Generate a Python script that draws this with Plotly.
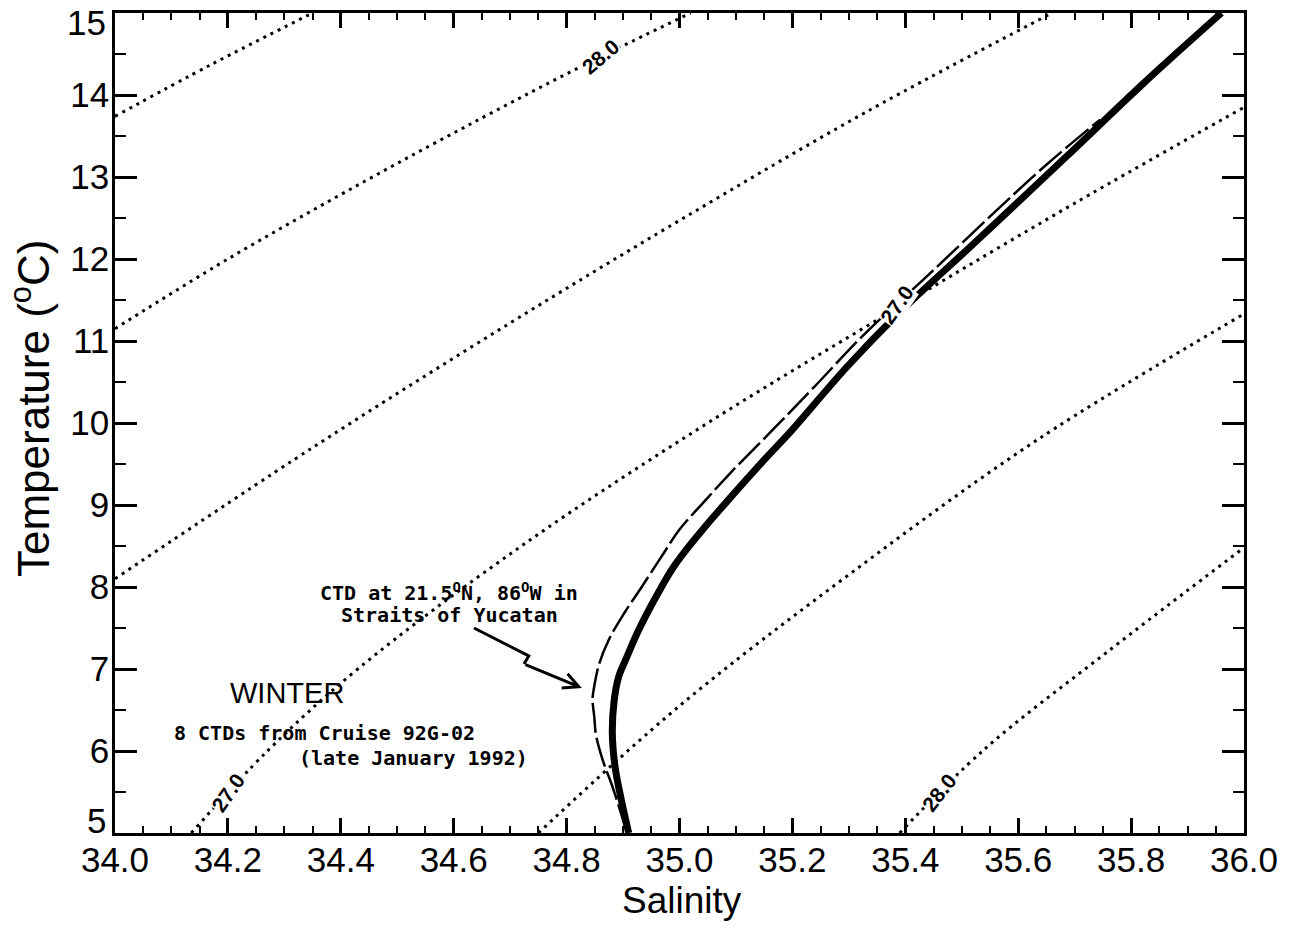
import plotly.graph_objects as go

# ---------------- data ----------------
# isopycnal (sigma-theta) contours: salinity / temperature points
iso_A_S = [34.0, 34.17, 34.35]
iso_A_T = [13.74, 14.37, 15.0]
iso_B_S = [34.0, 34.2, 34.435, 34.65, 34.835, 35.02]
iso_B_T = [11.15, 12.0, 12.92, 13.72, 14.38, 15.0]
iso_C_S = [34.0, 34.35, 34.7, 35.0, 35.33, 35.66]
iso_C_T = [8.10, 9.70, 11.22, 12.47, 13.79, 15.0]
iso_D_S = [34.135, 34.27, 34.43, 34.72, 35.05, 35.39, 35.70, 36.0]
iso_D_T = [5.0, 6.0, 7.0, 8.5, 10.0, 11.42, 12.68, 13.85]
iso_E_S = [34.75, 35.0, 35.3, 35.635, 36.0]
iso_E_T = [5.0, 6.55, 8.15, 9.8, 11.33]
iso_F_S = [35.39, 35.54, 35.76, 36.0]
iso_F_T = [5.0, 6.02, 7.22, 8.48]

# contour labels: text, S, T, angle
iso_label_text = ["28.0", "27.0", "27.0", "28.0"]
iso_label_S = [34.86, 35.385, 34.2, 35.46]
iso_label_T = [14.47, 11.45, 5.5, 5.49]
iso_label_angle = [-40, -55, -55, -52]

# 8 CTDs (cruise 92G-02) - overlapping, drawn as a thick band
ctd_S = [34.91, 34.897, 34.886, 34.881, 34.884, 34.892, 34.907, 34.926, 34.956,
         34.99, 35.035, 35.085, 35.15, 35.20, 35.296, 35.39, 35.52, 35.684, 35.82, 35.96]
ctd_T = [5.0, 5.4, 5.8, 6.22, 6.6, 6.9, 7.15, 7.45, 7.85,
         8.25, 8.65, 9.05, 9.55, 9.92, 10.68, 11.35, 12.18, 13.24, 14.13, 15.0]

# CTD in Straits of Yucatan (thin line)
yuc_S = [34.907, 34.90, 34.881, 34.864, 34.852, 34.849, 34.846, 34.849, 34.858,
         34.875, 34.902, 34.933, 34.968, 35.0, 35.045, 35.09, 35.165, 35.24,
         35.33, 35.44, 35.555, 35.65, 35.745]
yuc_T = [5.0, 5.16, 5.57, 5.89, 6.2, 6.42, 6.63, 6.79, 7.07,
         7.36, 7.68, 8.0, 8.37, 8.70, 9.05, 9.39, 9.915, 10.45,
         11.1, 11.8, 12.55, 13.15, 13.7]

# zig-zag pointer from the note to the Yucatan profile
arrow_S = [34.636, 34.733, 34.7245, 34.827]
arrow_T = [7.50, 7.159, 7.061, 6.768]

x_ticks = [34.0, 34.2, 34.4, 34.6, 34.8, 35.0, 35.2, 35.4, 35.6, 35.8, 36.0]
y_ticks = [5, 6, 7, 8, 9, 10, 11, 12, 13, 14, 15]

# ---------------- figure ----------------
fig = go.Figure()

dot_line = dict(color="black", width=3, dash="3px,5px")
for s, t in [(iso_A_S, iso_A_T), (iso_B_S, iso_B_T), (iso_C_S, iso_C_T),
             (iso_D_S, iso_D_T), (iso_E_S, iso_E_T), (iso_F_S, iso_F_T)]:
    fig.add_trace(go.Scatter(x=s, y=t, mode="lines", line=dict(dot_line, shape="spline"),
                             hoverinfo="skip", showlegend=False))

fig.add_trace(go.Scatter(x=yuc_S, y=yuc_T, mode="lines",
                         line=dict(color="black", width=2.5, dash="30px,5px", shape="spline"),
                         showlegend=False))
fig.add_trace(go.Scatter(x=ctd_S, y=ctd_T, mode="lines",
                         line=dict(color="black", width=7, shape="spline"),
                         showlegend=False))
fig.add_trace(go.Scatter(x=arrow_S[:3], y=arrow_T[:3], mode="lines",
                         line=dict(color="black", width=3), showlegend=False))

annotations = []
for txt, s, t, a in zip(iso_label_text, iso_label_S, iso_label_T, iso_label_angle):
    annotations.append(dict(x=s, y=t, text="<b>" + txt + "</b>", showarrow=False,
                            textangle=a,
                            font=dict(family="Liberation Sans", size=21, color="black"),
                            bgcolor="white", borderpad=0))

annotations.append(dict(x=arrow_S[3], y=arrow_T[3], ax=arrow_S[2], ay=arrow_T[2],
                        axref="x", ayref="y", xref="x", yref="y", text="",
                        showarrow=True, arrowhead=5, arrowsize=1, arrowwidth=3,
                        arrowcolor="black"))

mono = dict(family="DejaVu Sans Mono", size=20, color="black")
annotations += [
    dict(x=34.305, y=6.707, text="WINTER", showarrow=False,
         font=dict(family="Liberation Sans", size=29, color="black")),
    dict(x=34.101, y=6.22, text="<b>8 CTDs from Cruise 92G-02</b>", showarrow=False,
         xanchor="left", font=mono),
    dict(x=34.322, y=5.915, text="<b>(late January 1992)</b>", showarrow=False,
         xanchor="left", font=mono),
    dict(x=34.592, y=7.939, text="<b>CTD at 21.5<sup>O</sup>N, 86<sup>O</sup>W in</b>",
         showarrow=False, font=mono),
    dict(x=34.592, y=7.659, text="<b>Straits of Yucatan</b>", showarrow=False, font=mono),
    dict(xref="paper", yref="paper", x=0.502, y=0, yshift=-67, yanchor="middle",
         text="Salinity", showarrow=False,
         font=dict(family="Liberation Sans", size=37, color="black")),
    dict(xref="paper", yref="paper", x=0, xshift=-85, y=0.517, xanchor="center",
         yanchor="middle", textangle=-90, text="Temperature (<sup>o</sup>C)",
         showarrow=False, font=dict(family="Liberation Sans", size=44, color="black")),
    # end tick labels of the temperature axis sit inside the frame, as in the original
    dict(xref="paper", yref="y", x=0, xshift=-7, y=y_ticks[-1], yshift=-9,
         xanchor="right", yanchor="middle", text=str(y_ticks[-1]), showarrow=False,
         font=dict(family="Liberation Sans", size=35, color="black")),
    dict(xref="paper", yref="y", x=0, xshift=-7, y=y_ticks[0], yshift=13,
         xanchor="right", yanchor="middle", text=str(y_ticks[0]), showarrow=False,
         font=dict(family="Liberation Sans", size=35, color="black")),
]

axis_common = dict(showgrid=False, zeroline=False, showline=True, linecolor="black",
                   linewidth=2.5, mirror="ticks", ticks="inside", tickcolor="black",
                   tickwidth=2.5,
                   tickfont=dict(family="Liberation Sans", size=35, color="black"))

fig.update_xaxes(range=[34, 36], tickvals=x_ticks,
                 ticktext=[f"{v:.1f}" for v in x_ticks], ticklen=15,
                 ticklabelstandoff=-6,
                 minor=dict(dtick=0.05, ticks="inside", ticklen=7, tickwidth=2,
                            tickcolor="black", showgrid=False),
                 **axis_common)
fig.update_yaxes(range=[5, 15], tickvals=y_ticks,
                 ticktext=[""] + [str(v) for v in y_ticks[1:-1]] + [""], ticklen=22,
                 ticklabelstandoff=-4,
                 minor=dict(dtick=0.5, ticks="inside", ticklen=11, tickwidth=2,
                            tickcolor="black", showgrid=False),
                 **axis_common)

fig.update_layout(width=1306, height=931,
                  margin=dict(l=115, r=62, t=13, b=98, autoexpand=False),
                  paper_bgcolor="white", plot_bgcolor="white",
                  annotations=annotations, showlegend=False)

fig.write_html("out.html")
